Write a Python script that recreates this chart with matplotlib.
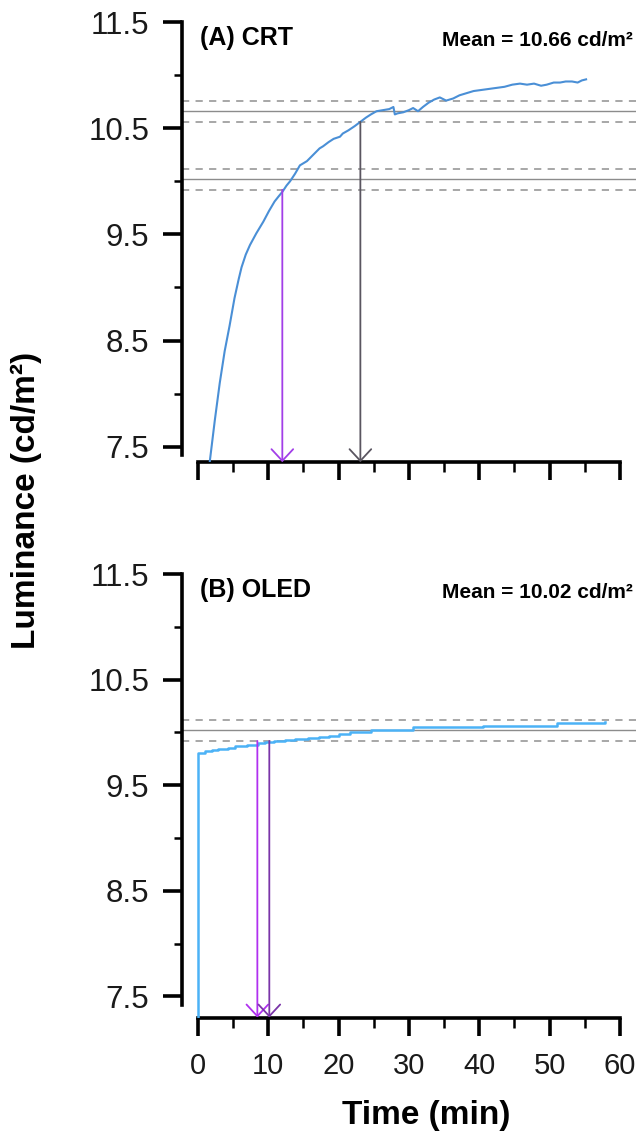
import matplotlib
matplotlib.use("Agg")
import matplotlib.pyplot as plt
from matplotlib.ticker import MultipleLocator

plt.rcParams["font.family"] = ["Liberation Sans", "DejaVu Sans"]

# CRT warm-up trace (time in min, luminance in cd/m2)
crt_t = [1.2, 1.7, 2.4, 3.1, 3.8, 4.5, 5.2, 5.8, 6.2, 6.8, 7.4, 8.3, 9.3, 10.1,
         10.9, 11.5, 12.0, 12.6, 13.1, 13.8, 14.5, 15.5, 16.4, 17.3, 17.8, 18.6,
         19.3, 20.2, 20.6, 21.4, 22.3, 23.1, 23.9, 24.6, 25.4, 26.3, 27.2, 27.8,
         28.0, 28.4, 29.2, 30.0, 30.6, 31.3, 32.0, 32.8, 33.6, 34.4, 35.3, 36.3,
         37.2, 38.2, 39.2, 40.3, 41.4, 42.5, 43.6, 44.7, 45.8, 46.8, 47.8, 48.8,
         49.6, 50.6, 51.5, 52.3, 53.2, 54.0, 54.6, 55.2]
crt_lum = [7.05, 7.37, 7.75, 8.10, 8.40, 8.64, 8.90, 9.08, 9.19, 9.31, 9.40, 9.51,
           9.62, 9.72, 9.81, 9.86, 9.90, 9.96, 10.00, 10.07, 10.15, 10.19, 10.25,
           10.31, 10.33, 10.37, 10.40, 10.42, 10.45, 10.48, 10.52, 10.56, 10.60,
           10.63, 10.66, 10.67, 10.68, 10.70, 10.63, 10.64, 10.65, 10.67, 10.69,
           10.66, 10.70, 10.74, 10.77, 10.79, 10.76, 10.78, 10.81, 10.83, 10.85,
           10.86, 10.87, 10.88, 10.89, 10.91, 10.92, 10.91, 10.92, 10.90, 10.91,
           10.93, 10.93, 10.94, 10.94, 10.93, 10.95, 10.96]

# OLED warm-up trace (stepped readings)
oled_t = [-1.0, 0.05, 1.0, 2.0, 2.9, 4.3, 5.3, 7.0, 8.6, 9.6, 10.8, 12.4, 13.8,
          15.7, 17.2, 18.6, 20.0, 21.6, 24.6, 30.6, 35.5, 40.6, 46.0, 51.0, 54.5,
          57.9]
oled_lum = [7.0, 9.81, 9.82, 9.83, 9.84, 9.85, 9.87, 9.88, 9.90, 9.91, 9.92, 9.93,
            9.94, 9.95, 9.96, 9.97, 9.985, 10.00, 10.02, 10.05, 10.05, 10.06,
            10.06, 10.09, 10.09, 10.10]

crt_mean = 10.66
oled_mean = 10.02
band = 0.1

# stabilisation times marked by arrows: (time, start level, colour)
crt_arrows = [(12.0, oled_mean - band, "#a23ee8"), (23.1, crt_mean - band, "#5a5560")]
oled_arrows = [(8.45, oled_mean - band, "#b030f0"), (10.15, 9.92, "#7a35a8")]

fig = plt.figure(figsize=(6.41, 11.35), dpi=100)
ax1 = fig.add_axes([0.2839, 0.5928, 0.7083, 0.3878])
ax2 = fig.add_axes([0.2839, 0.1035, 0.7083, 0.3907])


def band_lines(ax, mean):
    ax.axhline(mean, color="#8c8c8c", lw=1.0, zorder=1)
    for off in (-band, band):
        ax.axhline(mean + off, color="#a0a0a0", lw=1.3, dashes=(4, 3.5), zorder=1)


def style_axes(ax, ymin, show_xlabels):
    ax.set_xlim(-2.27, 62.3)
    ax.set_ylim(ymin, 11.5)
    for s in ("top", "right"):
        ax.spines[s].set_visible(False)
    ax.spines["left"].set_linewidth(2.6)
    ax.spines["bottom"].set_linewidth(2.6)
    ax.spines["left"].set_bounds(7.42, 11.5)
    ax.spines["bottom"].set_bounds(0, 60)
    ax.xaxis.set_major_locator(MultipleLocator(10))
    ax.xaxis.set_minor_locator(MultipleLocator(5))
    ax.yaxis.set_minor_locator(MultipleLocator(0.5))
    ax.set_yticks([7.5, 8.5, 9.5, 10.5, 11.5])
    ax.set_yticklabels(["7.5", "8.5", "9.5", "10.5", "11.5"])
    ax.tick_params(axis="y", which="major", length=13.5, width=2.6, pad=10,
                   labelsize=22.5, labelcolor="#1a1a1a")
    ax.tick_params(axis="y", which="minor", length=6, width=1.8)
    ax.tick_params(axis="x", which="major", length=13, width=2.6, pad=12,
                   labelsize=21, labelcolor="#1a1a1a", labelbottom=show_xlabels)
    ax.tick_params(axis="x", which="minor", length=7, width=1.8)


def arrows(ax, marks, ymin):
    for t, y0, c in marks:
        ax.annotate("", xy=(t, ymin), xytext=(t, y0),
                    arrowprops=dict(arrowstyle="->,head_length=0.7,head_width=0.65",
                                    color=c, lw=1.3, mutation_scale=12,
                                    shrinkA=0, shrinkB=0), zorder=4)


# (A) CRT
band_lines(ax1, crt_mean)
band_lines(ax1, oled_mean)
ax1.plot(crt_t, crt_lum, color="#4a8fd6", lw=1.5, zorder=3)
arrows(ax1, crt_arrows, 7.355)
style_axes(ax1, 7.355, False)
ax1.text(0.04, 0.9637, "(A) CRT", transform=ax1.transAxes, fontsize=18,
         fontweight="bold", ha="left", va="center")
ax1.text(0.993, 0.958, "Mean = %.2f cd/m²" % crt_mean, transform=ax1.transAxes,
         fontsize=15, fontweight="bold", ha="right", va="center",
         family=["Liberation Sans Narrow", "Liberation Sans"])

# (B) OLED
band_lines(ax2, oled_mean)
ax2.plot(oled_t, oled_lum, color="#4cb2f6", lw=1.8, drawstyle="steps-post", zorder=3)
arrows(ax2, oled_arrows, 7.30)
style_axes(ax2, 7.30, True)
ax2.text(0.04, 0.964, "(B) OLED", transform=ax2.transAxes, fontsize=18,
         fontweight="bold", ha="left", va="center")
ax2.text(0.993, 0.958, "Mean = %.2f cd/m²" % oled_mean, transform=ax2.transAxes,
         fontsize=15, fontweight="bold", ha="right", va="center",
         family=["Liberation Sans Narrow", "Liberation Sans"])

fig.text(0.041, 0.5595, "Luminance (cd/m²)", rotation=90, fontsize=24,
         fontweight="bold", ha="center", va="center")
fig.text(0.6646, 0.017, "Time (min)", fontsize=24, fontweight="bold",
         ha="center", va="center")

fig.savefig("out.png", dpi=100)
